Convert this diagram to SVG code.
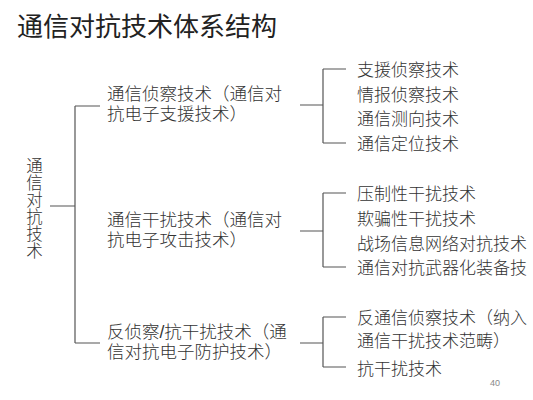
<svg xmlns="http://www.w3.org/2000/svg" width="533" height="400" viewBox="0 0 533 400">
<style>
text{font-family:"Liberation Sans","Noto Sans CJK SC",sans-serif;fill:#333;font-weight:300}
.t{font-size:26px;fill:#222;font-weight:normal}
.l1{font-size:16.5px;writing-mode:vertical-rl;letter-spacing:0.4px}
.l2{font-size:17.5px}
.l3{font-size:17px}
.pg{font-size:9px;fill:#888;font-weight:normal}
.c{stroke:#555;stroke-width:1.2;fill:none}
</style>
<rect width="533" height="400" fill="#fff"/>
<text class="t" x="17" y="35.5">通信对抗技术体系结构</text>
<g id="root">
<text class="l1" x="33.5" y="157.5">通信对抗技术</text>
</g>
<g id="recon">
<text class="l2" x="107" y="99.5">通信侦察技术（通信对<tspan x="107" dy="20">抗电子支援技术）</tspan></text>
</g>
<g id="jam">
<text class="l2" x="107" y="225.5">通信干扰技术（通信对<tspan x="107" dy="20">抗电子攻击技术）</tspan></text>
</g>
<g id="protect">
<text class="l2" x="107" y="337.5">反侦察/抗干扰技术（通<tspan x="107" dy="20">信对抗电子防护技术）</tspan></text>
</g>
<g id="recon-items">
<text class="l3" x="357" y="75.5">支援侦察技术</text>
<text class="l3" x="357" y="100.5">情报侦察技术</text>
<text class="l3" x="357" y="124.5">通信测向技术</text>
<text class="l3" x="357" y="149.5">通信定位技术</text>
</g>
<g id="jam-items">
<text class="l3" x="357" y="199.5">压制性干扰技术</text>
<text class="l3" x="357" y="224.5">欺骗性干扰技术</text>
<text class="l3" x="357" y="249.5">战场信息网络对抗技术</text>
<text class="l3" x="357" y="273.5">通信对抗武器化装备技</text>
</g>
<g id="protect-items">
<text class="l3" x="357" y="323.5">反通信侦察技术（纳入<tspan x="357" dy="23">通信干扰技术范畴）</tspan></text>
<text class="l3" x="357" y="374.5">抗干扰技术</text>
</g>
<g id="connectors" class="c">
<path d="M50,206H75M75,106V343M75,106H100M75,343H100"/>
<path d="M300,105H323M323,69V143M323,69H346M323,143H346"/>
<path d="M300,231H323M323,193V267M323,193H346M323,267H346"/>
<path d="M300,343H323M323,317V367M323,317H346M323,367H346"/>
</g>
<text class="pg" x="490" y="386">40</text>
</svg>
